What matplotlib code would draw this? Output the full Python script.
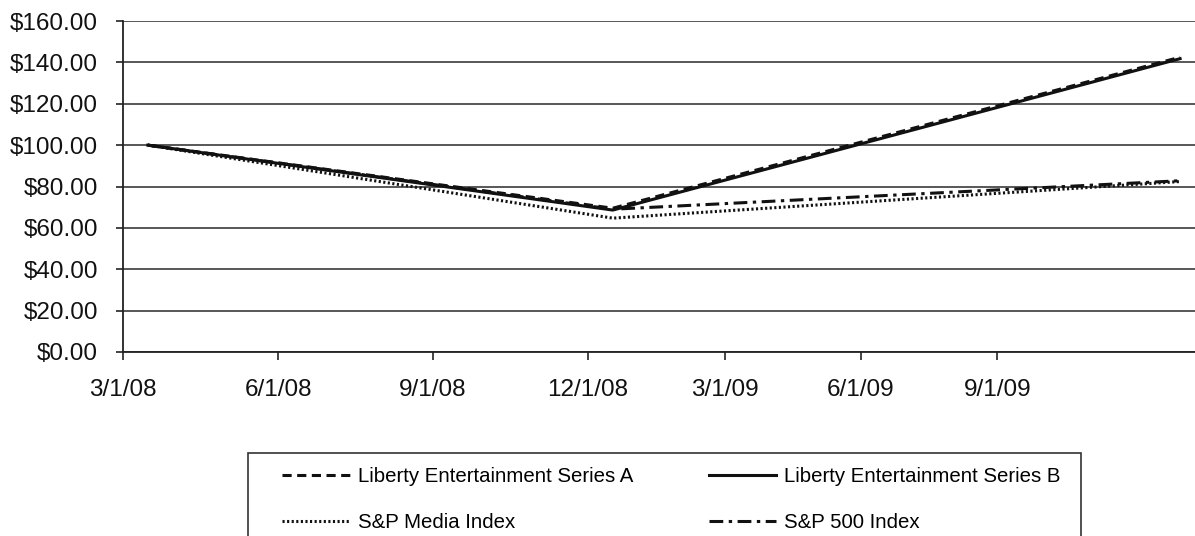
import matplotlib
matplotlib.use("Agg")
import matplotlib.pyplot as plt
from matplotlib.patches import Rectangle
from matplotlib.ticker import FuncFormatter

plt.rcParams["font.family"] = ["Liberation Sans", "DejaVu Sans"]

# Quarter-based x positions of the three observations and the axis ticks
x_obs = [0.16, 3.16, 6.82]
tick_labels = ["3/1/08", "6/1/08", "9/1/08", "12/1/08", "3/1/09", "6/1/09", "9/1/09"]
tick_pos = [0, 1, 2, 3, 3.885, 4.76, 5.64]

# Cumulative value of a $100 investment
series_a = [100.0, 69.5, 142.5]
series_b = [100.0, 68.6, 141.8]
sp_media = [100.0, 64.7, 82.4]
sp_500 = [100.0, 69.0, 82.8]

labels = ["Liberty Entertainment Series A", "Liberty Entertainment Series B",
          "S&P Media Index", "S&P 500 Index"]

W, H = 1195, 536
fig = plt.figure(figsize=(W / 100, H / 100), dpi=100)
ax = fig.add_axes([123 / W, (H - 352) / H, (W - 123) / W, (352 - 21) / H])

lw = 2.2
la, = ax.plot(x_obs, series_a, color="#111111", lw=lw, ls=(0, (3.0, 1.8)))
lb, = ax.plot(x_obs, series_b, color="#111111", lw=lw, ls="-")
lm, = ax.plot(x_obs, sp_media, color="#111111", lw=lw, ls=(0, (0.7, 0.8)))
ls5, = ax.plot(x_obs, sp_500, color="#111111", lw=lw, ls=(0, (4.5, 1.8, 1.1, 1.8)))

ax.set_xlim(0, (W - 123) / 155)
ax.set_ylim(0, 160)
ax.set_yticks(range(0, 161, 20))
ax.yaxis.set_major_formatter(FuncFormatter(lambda v, p: f"${v:,.2f}"))
ax.set_xticks(tick_pos)
ax.set_xticklabels(tick_labels)

ax.grid(axis="y", color="#2a2a2a", lw=1.1)
ax.set_axisbelow(True)
for s in ("top", "right"):
    ax.spines[s].set_visible(False)
for s in ("left", "bottom"):
    ax.spines[s].set_color("#222222")
    ax.spines[s].set_linewidth(1.3)

ax.tick_params(axis="y", direction="out", length=5, width=1.1, pad=13,
               labelsize=17.5, colors="#111111")
ax.tick_params(axis="x", direction="out", length=5.5, width=1.1, pad=14,
               labelsize=17.5, colors="#111111")

# Legend box and entries (row-wise order: A, B / Media, 500)
fig.patches.append(Rectangle((248 / W, (H - 542) / H), (1081 - 248) / W, (542 - 453) / H,
                             transform=fig.transFigure, fill=False,
                             edgecolor="#333333", lw=1.2))
fig.legend([la, lm, lb, ls5], [labels[0], labels[2], labels[1], labels[3]],
           ncol=2, frameon=False,
           loc="upper left", bbox_to_anchor=(266 / W, 1 - 451 / H),
           fontsize=14.7, handlelength=3.3, handletextpad=0.4,
           columnspacing=3.7, labelspacing=1.3, borderpad=0.3)

fig.savefig("out.png", dpi=100)
